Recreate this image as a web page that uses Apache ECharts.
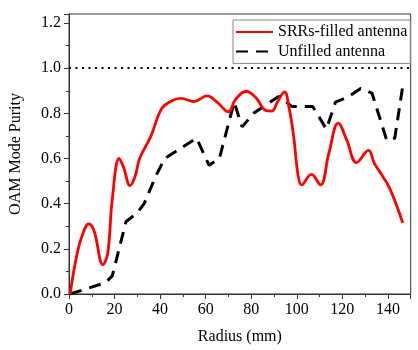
<!DOCTYPE html>
<html>
<head>
<meta charset="utf-8">
<script src="https://cdn.jsdelivr.net/npm/echarts@6/dist/echarts.min.js"></script>
<style>
  html, body { margin: 0; padding: 0; background: #fff; }
  #main { width: 418px; height: 350px; }
</style>
</head>
<body>
<div id="main"></div>
<script>
// values
var srrRadius = [0.5, 3, 5.5, 8.7, 11, 14.9, 17, 19, 22, 24, 26.8, 29, 31, 36, 40.6, 44.9, 49.2, 54.9, 60.6, 65, 70, 73, 77.8, 82, 86, 89, 91.5, 94.6, 96.5, 98.6, 100.5, 102.1, 106.4, 110.4, 114, 118.2, 122, 126.2, 131.5, 134, 136.5, 140.8, 146.5];
var srrPurity = [0.0, 0.15, 0.25, 0.31, 0.28, 0.13, 0.18, 0.42, 0.60, 0.56, 0.48, 0.52, 0.60, 0.70, 0.82, 0.855, 0.866, 0.852, 0.877, 0.85, 0.807, 0.86, 0.898, 0.87, 0.815, 0.81, 0.85, 0.895, 0.83, 0.70, 0.53, 0.483, 0.53, 0.483, 0.62, 0.757, 0.68, 0.582, 0.636, 0.58, 0.54, 0.468, 0.315];

var unfilledRadius = [0.5, 16, 19, 25, 30, 33, 38, 42, 56, 61.5, 66, 72.5, 76, 81, 92, 98, 107, 113, 117, 122, 128, 133, 139.5, 143, 146.5];
var unfilledPurity = [0.0, 0.05, 0.08, 0.32, 0.36, 0.40, 0.52, 0.60, 0.69, 0.57, 0.60, 0.85, 0.74, 0.80, 0.875, 0.83, 0.83, 0.73, 0.85, 0.87, 0.91, 0.89, 0.68, 0.69, 0.92];

function zip(xs, ys) {
  return xs.map(function (x, i) { return [x, ys[i]]; });
}

var myChart = echarts.init(document.getElementById("main"));
var font = "'Liberation Serif', 'Times New Roman', serif";

var option = {
  animation: false,
  textStyle: { fontFamily: font, color: "#000" },
  grid: {
    left: 62, right: 7.3, top: 14, bottom: 53.3,
    show: true, borderColor: "#333", borderWidth: 1
  },
  legend: {
    orient: "vertical",
    left: 233, top: 20,
    padding: [4, 3, 4, 2],
    itemGap: 3.4,
    itemWidth: 37, itemHeight: 14,
    borderColor: "#888", borderWidth: 1,
    itemStyle: { opacity: 0 },
    textStyle: { fontFamily: font, fontSize: 16, color: "#000", lineHeight: 16 },
    data: ["SRRs-filled antenna", "Unfilled antenna"]
  },
  xAxis: {
    type: "value",
    min: 0, max: 150, interval: 20,
    name: "Radius (mm)",
    nameLocation: "middle",
    nameGap: 35,
    nameTextStyle: { fontFamily: font, fontSize: 16, color: "#000" },
    axisLine: { lineStyle: { color: "#333", width: 1 } },
    axisTick: { show: true, inside: false, length: 5, lineStyle: { color: "#333" } },
    minorTick: { show: true, splitNumber: 2, length: 3, lineStyle: { color: "#333" } },
    splitLine: { show: false },
    axisLabel: {
      fontFamily: font, fontSize: 16, color: "#000", margin: 8,
      formatter: function (v) { return v % 20 === 0 ? String(v) : ""; }
    }
  },
  yAxis: {
    type: "value",
    min: 0, max: 1.24, interval: 0.2,
    name: "OAM Mode Purity",
    nameLocation: "middle",
    nameGap: 45,
    nameTextStyle: { fontFamily: font, fontSize: 16, color: "#000" },
    axisLine: { show: true, lineStyle: { color: "#333", width: 1 } },
    axisTick: { show: true, inside: false, length: 5, lineStyle: { color: "#333" } },
    minorTick: { show: true, splitNumber: 2, length: 3, lineStyle: { color: "#333" } },
    splitLine: { show: false },
    axisLabel: {
      fontFamily: font, fontSize: 16, color: "#000", margin: 8,
      formatter: function (v) {
        return Math.abs(v * 5 - Math.round(v * 5)) < 1e-6 ? v.toFixed(1) : "";
      }
    }
  },
  series: [
    {
      name: "SRRs-filled antenna",
      type: "line",
      smooth: 0.4,
      symbol: "none",
      color: "#ff0000",
      lineStyle: { color: "#ff0000", width: 2.8 },
      data: zip(srrRadius, srrPurity),
      markLine: {
        silent: true,
        symbol: "none",
        label: { show: false },
        lineStyle: { color: "#000", type: [2, 4.5], width: 1.8 },
        data: [{ yAxis: 1.0 }]
      },
      z: 3
    },
    {
      name: "Unfilled antenna",
      type: "line",
      symbol: "none",
      color: "#000",
      lineStyle: { color: "#000", width: 3, type: [12, 8] },
      data: zip(unfilledRadius, unfilledPurity),
      z: 2
    }
  ]
};

myChart.setOption(option);
</script>
</body>
</html>
